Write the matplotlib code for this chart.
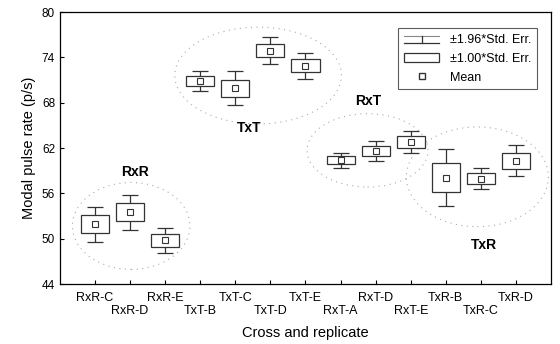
import numpy as np
import matplotlib
matplotlib.use("Agg")
import matplotlib.pyplot as plt
from matplotlib.patches import Ellipse, Rectangle
from matplotlib.lines import Line2D
from matplotlib.legend_handler import HandlerBase

plt.rcParams['font.family'] = ['Liberation Sans', 'DejaVu Sans']

# data
labels = ['RxR-C', 'RxR-D', 'RxR-E', 'TxT-B', 'TxT-C', 'TxT-D', 'TxT-E',
          'RxT-A', 'RxT-D', 'RxT-E', 'TxR-B', 'TxR-C', 'TxR-D']
means = [51.95, 53.5, 49.8, 70.9, 69.9, 74.9, 72.9,
         60.4, 61.65, 62.8, 58.1, 57.95, 60.3]
std_err = [1.18, 1.2, 0.85, 0.67, 1.15, 0.9, 0.88,
           0.5, 0.69, 0.75, 1.93, 0.72, 1.05]

groups = ['RxR', 'TxT', 'RxT', 'TxR']
group_label_x = [1.15, 4.4, 7.8, 11.1]
group_label_y = [58.8, 64.6, 68.2, 49.2]
ell_cx = [1.03, 4.65, 7.77, 10.9]
ell_cy = [51.7, 71.6, 61.7, 58.2]
ell_w = [3.35, 4.75, 3.45, 4.05]
ell_h = [11.5, 12.8, 9.7, 13.2]

x = np.arange(len(labels))
means = np.array(means)
std_err = np.array(std_err)

fig = plt.figure(figsize=(5.6, 3.44), dpi=100)
ax = fig.add_axes([0.107, 0.174, 0.877, 0.791])

edge = '#333333'

# dotted ellipses around the groups
for i in range(len(groups)):
    e = Ellipse((ell_cx[i], ell_cy[i]), ell_w[i], ell_h[i], fill=False,
                edgecolor='#aaaaaa', linestyle=(0, (1, 4)), linewidth=0.8)
    ax.add_patch(e)
    ax.text(group_label_x[i], group_label_y[i], groups[i], ha='center',
            va='center', fontsize=10, fontweight='bold')

# whiskers (+-1.96 SE)
ax.errorbar(x, means, yerr=1.96 * std_err, fmt='none', ecolor=edge,
            elinewidth=0.9, capsize=5.5, capthick=0.9, zorder=2)
# boxes (+-1.00 SE)
ax.bar(x, 2 * std_err, bottom=means - std_err, width=0.8, color='white',
       edgecolor=edge, linewidth=0.9, zorder=3)
# means
ax.plot(x, means, 's', markersize=4.5, markerfacecolor='white',
        markeredgecolor=edge, markeredgewidth=0.8, zorder=4)

ax.set_xlim(-1, 13)
ax.set_ylim(44, 80)
ax.set_yticks(np.arange(44, 81, 6))
ax.set_xticks(x)
ax.set_xticklabels([l if i % 2 == 0 else '\n' + l for i, l in enumerate(labels)],
                   fontsize=9, linespacing=1.1)
ax.tick_params(axis='y', labelsize=8.5, direction='in', length=3)
ax.tick_params(axis='x', direction='in', length=3, pad=6)
ax.set_xlabel('Cross and replicate', fontsize=10.5, labelpad=6)
ax.set_ylabel('Modal pulse rate (p/s)', fontsize=10.5)
for s in ax.spines.values():
    s.set_linewidth(0.9)


class WhiskerHandler(HandlerBase):
    def create_artists(self, legend, orig_handle, xdescent, ydescent,
                       width, height, fontsize, trans):
        y0 = height * 0.05
        y1 = height * 0.75
        top = Line2D([0, width], [y1, y1], color='#888888', lw=0.8, transform=trans)
        cap = Line2D([0, width], [y0, y0], color=edge, lw=0.9, transform=trans)
        stem = Line2D([width / 2, width / 2], [y0, y1], color=edge,
                      lw=0.9, transform=trans)
        return [top, cap, stem]


whisk = Line2D([], [])
box = Rectangle((0, 0), 1, 1, facecolor='white', edgecolor=edge, linewidth=0.9)
mean_h = Line2D([], [], marker='s', linestyle='none', markersize=4,
                markerfacecolor='white', markeredgecolor=edge)
leg = ax.legend([whisk, box, mean_h],
                ['\u00b11.96*Std. Err.', '\u00b11.00*Std. Err.', 'Mean'],
                handler_map={whisk: WhiskerHandler()},
                loc='upper right', bbox_to_anchor=(0.972, 0.94),
                fontsize=9, frameon=True, fancybox=False, edgecolor=edge,
                borderaxespad=0, handlelength=2.8, handletextpad=0.9,
                labelspacing=0.55, borderpad=0.45)
leg.get_frame().set_linewidth(0.8)

plt.savefig('out.png', dpi=100)
